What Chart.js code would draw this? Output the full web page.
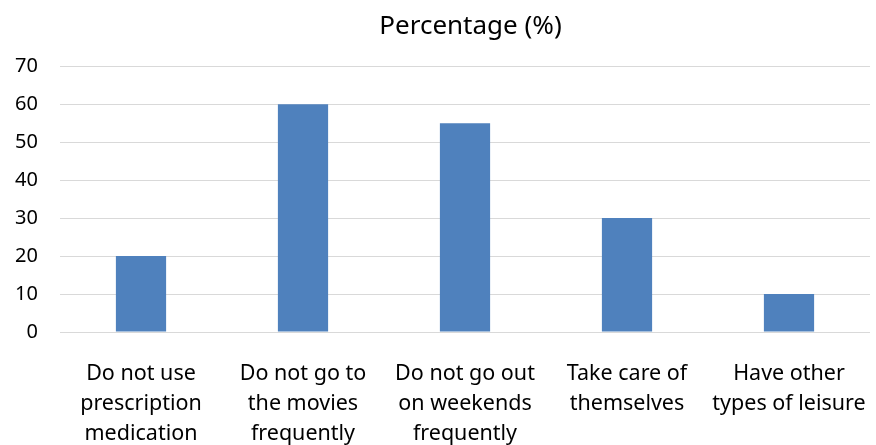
<!DOCTYPE html>
<html><head><meta charset="utf-8">
<script src="https://cdn.jsdelivr.net/npm/chart.js@4.4.0/dist/chart.umd.min.js"></script>
<style>html,body{margin:0;padding:0;background:#fff;}#wrap{width:876px;height:445px;}</style>
</head><body><div id="wrap"><canvas id="c" width="876" height="445"></canvas></div>
<script>
const categories = [
  ["Do not use","prescription","medication"],
  ["Do not go to","the movies","frequently"],
  ["Do not go out","on weekends","frequently"],
  ["Take care of","themselves"],
  ["Have other","types of leisure"]
];
const values = [20, 60, 55, 30, 10];
const yTicks = [0,10,20,30,40,50,60,70];
const titleText = "Percentage (%)";
const FONT = "'Noto Sans', 'Open Sans', sans-serif";
const shiftTitle = {
  id: 'shiftTitle',
  afterLayout(chart) {
    const t = chart.titleBlock;
    if (t) { t.left += 28; t.right += 28; }
  }
};
new Chart(document.getElementById('c'), {
  type: 'bar',
  data: { labels: categories, datasets: [{ data: values, backgroundColor: '#4F81BD', categoryPercentage: 1.0, barPercentage: 0.31 }] },
  options: {
    responsive: false, animation: false,
    layout: { padding: { left: 15, right: 6, top: 8, bottom: 0 } },
    plugins: {
      legend: { display: false }, tooltip: { enabled: false },
      title: { display: true, text: titleText, color: '#000', font: { family: FONT, size: 26, weight: 'normal' }, padding: { top: 3, bottom: 24 } }
    },
    scales: {
      x: {
        grid: { display: false }, border: { display: false },
        ticks: { color: '#000', font: { family: FONT, size: 21.5, lineHeight: 1.39 }, padding: 19, maxRotation: 0, autoSkip: false },
        afterFit: (s) => { s.height = 113; s.paddingLeft = 0; s.paddingRight = 0; }
      },
      y: {
        min: 0, max: 70,
        afterBuildTicks: (s) => { s.ticks = yTicks.map(v => ({ value: v })); },
        grid: { color: '#d9d9d9', lineWidth: 1, drawTicks: false }, border: { display: false },
        ticks: { color: '#000', font: { family: FONT, size: 20 }, padding: 22 },
        afterFit: (s) => { s.width = 45; s.paddingTop = 0; s.paddingBottom = 0; }
      }
    }
  },
  plugins: [shiftTitle]
});
</script></body></html>
